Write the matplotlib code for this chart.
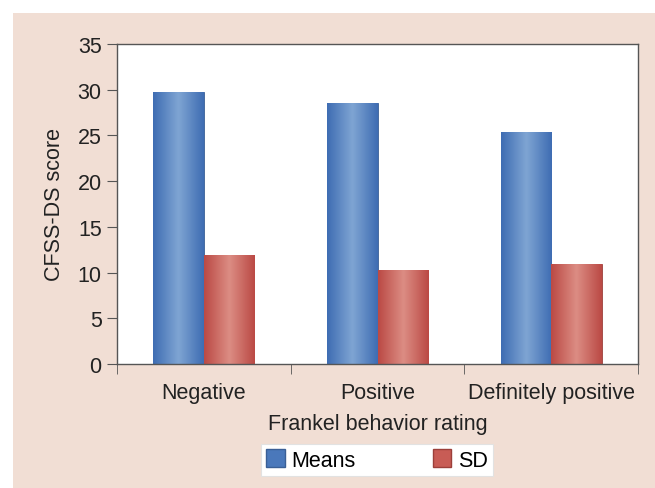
import numpy as np
import matplotlib
matplotlib.use('Agg')
import matplotlib.pyplot as plt
from matplotlib.patches import Rectangle, Patch
from matplotlib.colors import LinearSegmentedColormap

categories = ['Negative', 'Positive', 'Definitely positive']
means = [29.7, 28.6, 25.4]
sd = [11.9, 10.3, 10.9]
series_names = ['Means', 'SD']
y_ticks = [0, 5, 10, 15, 20, 25, 30, 35]

plt.rcParams['font.family'] = ['Liberation Sans', 'DejaVu Sans']

blue_cmap = LinearSegmentedColormap.from_list('b', ['#3f6db3', '#7fa5d3', '#3f6db3'])
red_cmap = LinearSegmentedColormap.from_list('r', ['#bb4a45', '#dc8d84', '#bb4a45'])


def shade_bars(ax, bars, cmap):
    # cylinder-like shading drawn inside every bar
    grad = np.linspace(0, 1, 64).reshape(1, -1)
    for b in bars:
        x0, y0 = b.get_x(), b.get_y()
        w, h = b.get_width(), b.get_height()
        im = ax.imshow(grad, cmap=cmap, aspect='auto', extent=(x0, x0 + w, y0, y0 + h),
                       zorder=2, interpolation='bicubic')
        im.set_clip_path(b)


def main():
    fig = plt.figure(figsize=(6.55, 4.89), dpi=100)
    fig.patch.set_facecolor('white')
    fig.patches.append(Rectangle((13 / 655, -0.02), 1, 1.02 - 14 / 489, transform=fig.transFigure,
                                 facecolor='#f1ded4', edgecolor='none', zorder=-10))

    ax = fig.add_axes([117 / 655, 1 - 365 / 489, 521 / 655, 320 / 489])
    ax.set_facecolor('white')

    fs = 15.5
    x = np.arange(len(categories))
    w = 0.29
    b1 = ax.bar(x - w / 2, means, w, color='#4a78bb', edgecolor='#3a5f96', linewidth=0.6, zorder=1)
    b2 = ax.bar(x + w / 2, sd, w, color='#c85c55', edgecolor='#9c3f3a', linewidth=0.6, zorder=1)
    shade_bars(ax, b1, blue_cmap)
    shade_bars(ax, b2, red_cmap)

    ax.set_xlim(-0.5, len(categories) - 0.5)
    ax.set_ylim(0, 35)
    ax.set_yticks(y_ticks)
    ax.set_xticks(x)
    ax.set_xticklabels(categories)
    ax.set_xticks(np.arange(len(categories) + 1) - 0.5, minor=True)
    ax.tick_params(axis='x', which='major', length=0, pad=13, labelsize=fs, colors='#222222')
    ax.tick_params(axis='x', which='minor', length=7, direction='out', color='#555555')
    ax.tick_params(axis='y', length=7, direction='out', color='#555555', labelsize=fs,
                   colors='#222222', pad=4)
    for s in ax.spines.values():
        s.set_color('#555555')
        s.set_linewidth(1.0)

    ax.set_ylabel('CFSS-DS score', fontsize=fs, color='#222222', labelpad=9)
    ax.set_xlabel('Frankel behavior rating', fontsize=fs, color='#222222', labelpad=7)

    handles = [Patch(facecolor='#4a78bb', edgecolor='#3a5f96'),
               Patch(facecolor='#c85c55', edgecolor='#9c3f3a')]
    leg = fig.legend(handles, series_names, loc='center', ncol=2,
                     bbox_to_anchor=(377 / 655, 1 - 461 / 489), fontsize=fs,
                     frameon=True, fancybox=False, framealpha=1, columnspacing=3.6,
                     handlelength=0.85, handleheight=0.85, handletextpad=0.3, borderpad=0.25)
    leg.get_frame().set_facecolor('white')
    leg.get_frame().set_edgecolor('#e2e2e2')
    leg.get_frame().set_linewidth(0.8)

    fig.savefig('out.png', dpi=100, facecolor=fig.get_facecolor())


if __name__ == '__main__':
    main()
